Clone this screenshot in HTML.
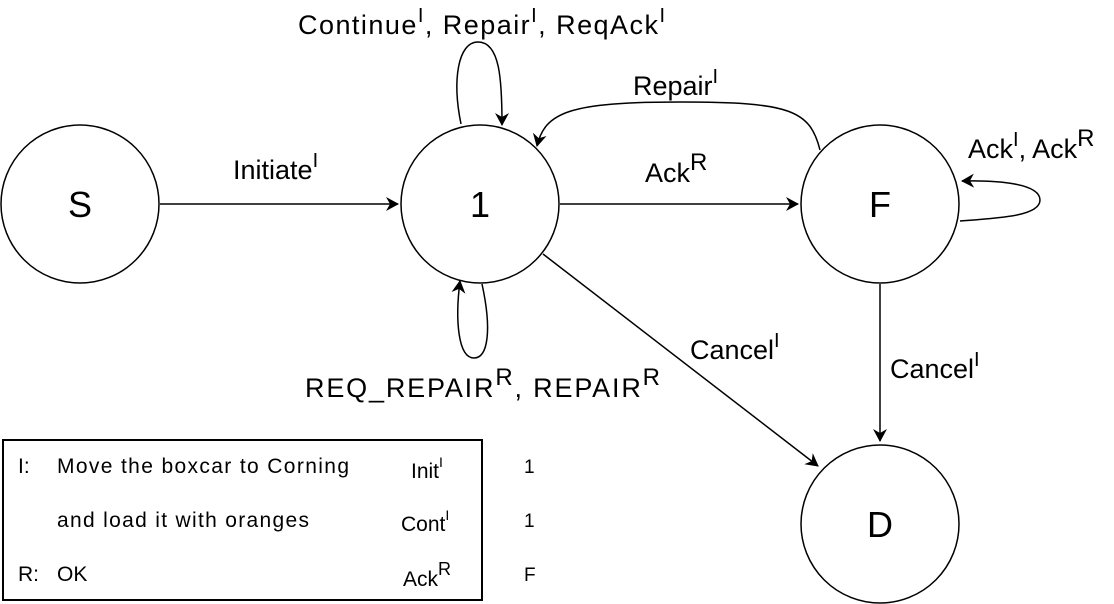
<!DOCTYPE html>
<html><head><style>
body{margin:0;background:#fff;}
svg{display:block;font-family:"Liberation Sans",Arial,sans-serif;}
</style></head><body>
<svg width="1114" height="604" viewBox="0 0 1114 604">
<defs><marker id="a" markerWidth="14" markerHeight="14" refX="12" refY="7" orient="auto" markerUnits="userSpaceOnUse"><path d="M0,0 L13,7 L0,14 L4,7 Z" fill="#000"/></marker></defs>
<g fill="#fff" stroke="#000" stroke-width="1.5">
<circle cx="80" cy="204" r="79"/>
<circle cx="480" cy="204" r="79"/>
<circle cx="880" cy="204" r="79"/>
<circle cx="880" cy="524" r="79"/>
</g>
<g font-size="36" text-anchor="middle">
<text x="80" y="217">S</text><text x="480" y="217">1</text><text x="880" y="217">F</text><text x="880" y="537">D</text>
</g>
<g fill="none" stroke="#000" stroke-width="1.5" marker-end="url(#a)">
<line x1="160" y1="204" x2="398" y2="204"/>
<line x1="560" y1="204" x2="798" y2="204"/>
<line x1="880" y1="284" x2="880" y2="441"/>
<line x1="543" y1="254" x2="818" y2="466"/>
<path d="M461,124 C452,80 458,42 478,42 C500,42 502,80 502,125"/>
<path d="M482,284 C492,330 488,358 474,358 C458,358 455,320 460,281"/>
<path d="M820,150 C810,110 790,102 680,102 C570,102 545,112 537,146"/>
<path d="M960,221 C1000,218 1040,216 1040,200 C1040,184 1000,180 962,181"/>
</g>
<g font-size="27" textLength="0">
<text x="298" y="34" textLength="367">Continue<tspan font-size="20" dy="-12">I</tspan><tspan dy="12">, Repair</tspan><tspan font-size="20" dy="-12">I</tspan><tspan dy="12">, ReqAck</tspan><tspan font-size="20" dy="-12">I</tspan></text>
<text x="233" y="179">Initiate<tspan font-size="20" dy="-12">I</tspan></text>
<text x="633" y="95">Repair<tspan font-size="20" dy="-12">I</tspan></text>
<text x="645" y="182">Ack<tspan font-size="24" dy="-12">R</tspan></text>
<text x="968" y="158">Ack<tspan font-size="20" dy="-12">I</tspan><tspan dy="12">, Ack</tspan><tspan font-size="24" dy="-12">R</tspan></text>
<text x="690" y="359">Cancel<tspan font-size="20" dy="-12">I</tspan></text>
<text x="890" y="378">Cancel<tspan font-size="20" dy="-12">I</tspan></text>
<text x="305" y="397" textLength="355">REQ_REPAIR<tspan font-size="24" dy="-12">R</tspan><tspan dy="12">, REPAIR</tspan><tspan font-size="24" dy="-12">R</tspan></text>
</g>
<rect x="3" y="440" width="479" height="160" fill="none" stroke="#000" stroke-width="2"/>
<g font-size="21">
<text x="18" y="473">I:</text><text x="57" y="473" textLength="292">Move the boxcar to Corning</text>
<text x="57" y="527" textLength="252">and load it with oranges</text>
<text x="18" y="581">R:</text><text x="57" y="581">OK</text>
<text x="411" y="478">Init<tspan font-size="14" dy="-11">I</tspan></text>
<text x="401" y="531">Cont<tspan font-size="14" dy="-11">I</tspan></text>
<text x="403" y="586">Ack<tspan font-size="18" dy="-11">R</tspan></text>
<text x="524" y="473" font-size="19">1</text><text x="524" y="527" font-size="19">1</text><text x="524" y="581" font-size="19">F</text>
</g>
</svg>
</body></html>
